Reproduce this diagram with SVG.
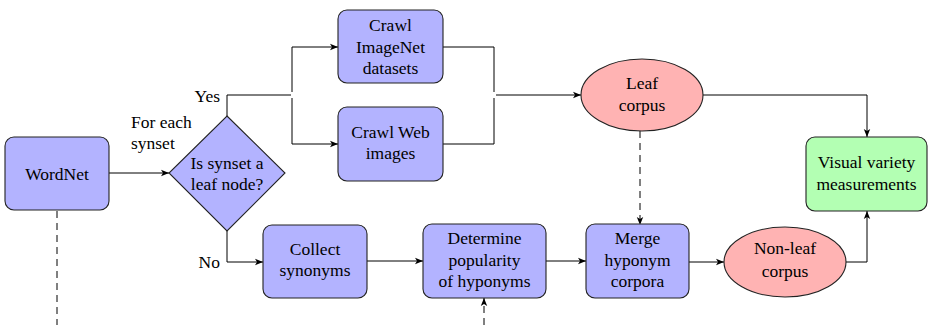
<svg xmlns="http://www.w3.org/2000/svg" width="928" height="325" viewBox="0 0 928 325">
<defs>
<marker id="arr" viewBox="0 0 10 10" refX="10" refY="5" markerWidth="8" markerHeight="8" markerUnits="userSpaceOnUse" orient="auto">
<path d="M0,1 L10,5 L0,9 L2.5,5 Z" fill="#000"/>
</marker>
<style>
.t{font-family:"Liberation Serif","Times New Roman",serif;font-size:17.5px;fill:#000;text-anchor:middle}
.l{font-family:"Liberation Serif","Times New Roman",serif;font-size:17.5px;fill:#000}
.b{fill:#b3b3ff;stroke:#222;stroke-width:1.1}
.r{fill:#ffb3b3;stroke:#222;stroke-width:1.1}
.g{fill:#b3ffb3;stroke:#222;stroke-width:1.1}
.c{fill:none;stroke:#000;stroke-width:1}
.d{fill:none;stroke:#000;stroke-width:1;stroke-dasharray:7 5}
</style>
</defs>
<rect width="928" height="325" fill="#fff"/>
<g id="connectors">
<path class="c" d="M109,173 H169" marker-end="url(#arr)"/>
<path class="c" d="M227,116 V95 H291"/>
<path class="c" d="M292,92 V47 H338" marker-end="url(#arr)"/>
<path class="c" d="M292,98 V144 H338" marker-end="url(#arr)"/>
<path class="c" d="M443,47 H494 V92"/>
<path class="c" d="M443,144 H494 V98"/>
<path class="c" d="M496,95 H581" marker-end="url(#arr)"/>
<path class="c" d="M703,95 H867 V137" marker-end="url(#arr)"/>
<path class="c" d="M227,231 V262 H263" marker-end="url(#arr)"/>
<path class="c" d="M367,261 H423" marker-end="url(#arr)"/>
<path class="c" d="M546,261 H586" marker-end="url(#arr)"/>
<path class="c" d="M689,262 H724" marker-end="url(#arr)"/>
<path class="c" d="M846,262 H867 V211" marker-end="url(#arr)"/>
<path class="d" d="M640,131 V225" marker-end="url(#arr)"/>
<path class="d" d="M57,211 V325"/>
<path class="d" d="M484,325 V298" marker-end="url(#arr)"/>
</g>
<g id="labels">
<text class="l" x="131" y="128">For each</text>
<text class="l" x="131" y="149">synset</text>
<text class="l" x="220" y="102" text-anchor="end" style="text-anchor:end">Yes</text>
<text class="l" x="220" y="268" style="text-anchor:end">No</text>
</g>
<g id="wordnet">
<rect class="b" x="5" y="137" width="104" height="73" rx="9"/>
<text class="t" x="57" y="180">WordNet</text>
</g>
<g id="leafcheck">
<polygon class="b" points="227,116 285,173 227,231 169,173"/>
<text class="t" x="227" y="169">Is synset a</text>
<text class="t" x="227" y="190">leaf node?</text>
</g>
<g id="crawlimagenet">
<rect class="b" x="338" y="10" width="105" height="73" rx="9"/>
<text class="t" x="390.5" y="31">Crawl</text>
<text class="t" x="390.5" y="53">ImageNet</text>
<text class="t" x="390.5" y="74">datasets</text>
</g>
<g id="crawlweb">
<rect class="b" x="338" y="107" width="105" height="74" rx="9"/>
<text class="t" x="390.5" y="138">Crawl Web</text>
<text class="t" x="390.5" y="159">images</text>
</g>
<g id="leafcorpus">
<ellipse class="r" cx="642" cy="95" rx="61" ry="36"/>
<text class="t" x="642" y="89">Leaf</text>
<text class="t" x="642" y="111">corpus</text>
</g>
<g id="visual">
<rect class="g" x="806" y="137" width="121" height="74" rx="9"/>
<text class="t" x="866.5" y="168">Visual variety</text>
<text class="t" x="866.5" y="190">measurements</text>
</g>
<g id="collect">
<rect class="b" x="263" y="225" width="104" height="73" rx="9"/>
<text class="t" x="315" y="255">Collect</text>
<text class="t" x="315" y="276">synonyms</text>
</g>
<g id="determine">
<rect class="b" x="423" y="224" width="123" height="74" rx="9"/>
<text class="t" x="484.5" y="244">Determine</text>
<text class="t" x="484.5" y="266">popularity</text>
<text class="t" x="484.5" y="287">of hyponyms</text>
</g>
<g id="merge">
<rect class="b" x="586" y="224" width="103" height="74" rx="9"/>
<text class="t" x="637.5" y="244">Merge</text>
<text class="t" x="637.5" y="266">hyponym</text>
<text class="t" x="637.5" y="287">corpora</text>
</g>
<g id="nonleaf">
<ellipse class="r" cx="785" cy="262" rx="61" ry="35"/>
<text class="t" x="785" y="254">Non-leaf</text>
<text class="t" x="785" y="277">corpus</text>
</g>
</svg>
